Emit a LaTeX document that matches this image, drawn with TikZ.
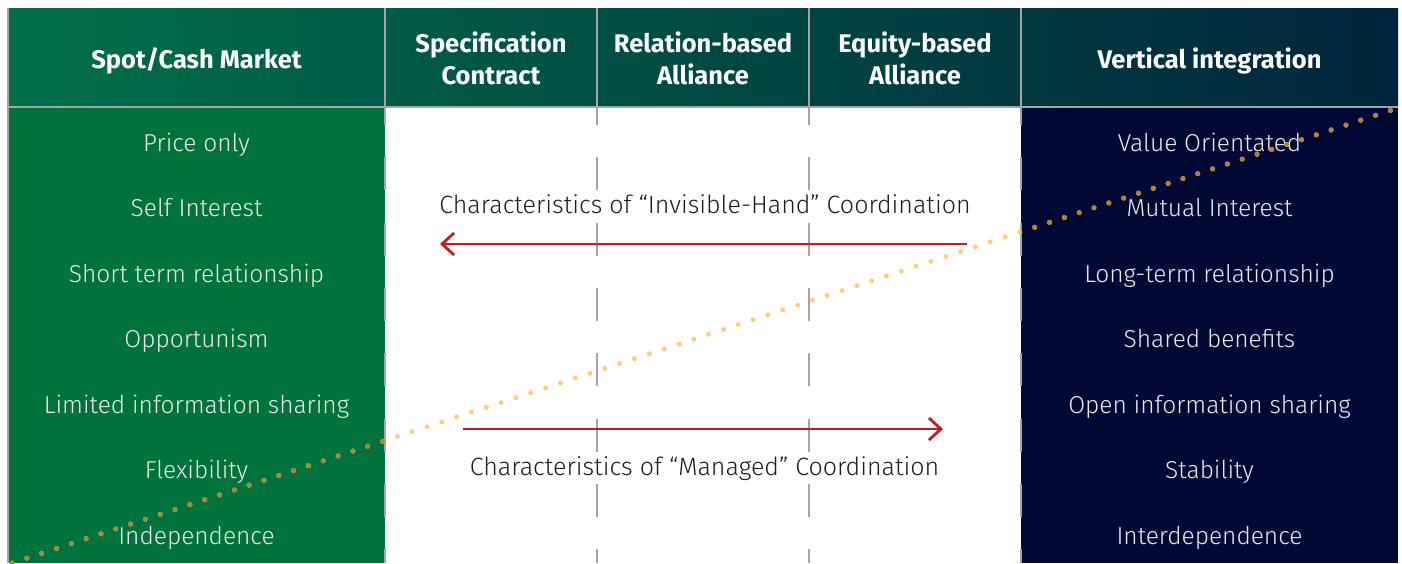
\documentclass[tikz,border=0pt]{standalone}
\usepackage{fontspec}
\setmainfont{Fira Sans}[UprightFont=* Light, BoldFont=* Bold]
\usetikzlibrary{arrows.meta}

\definecolor{hdrL}{RGB}{0,112,74}
\definecolor{hdrR}{RGB}{0,36,60}
\definecolor{bodygreen}{RGB}{0,114,59}
\definecolor{bodynavy}{RGB}{1,8,51}
\definecolor{gridgray}{RGB}{165,165,165}
\definecolor{arrowred}{RGB}{192,30,36}
\definecolor{dotlight}{RGB}{255,206,122}
\definecolor{dotgreen}{RGB}{160,142,52}
\definecolor{dotnavy}{RGB}{176,132,52}
\definecolor{midtext}{RGB}{30,30,30}
\definecolor{bodytext}{RGB}{236,236,236}

\begin{document}
\begin{tikzpicture}[x=1pt,y=-1pt,
  hdr/.style={font=\fontsize{25.5}{32}\selectfont\bfseries, text=white, align=center, anchor=base, inner sep=0pt},
  item/.style={font=\fontsize{24.5}{30}\selectfont, text=bodytext, anchor=base, inner sep=0pt},
  midlabel/.style={font=\fontsize{25}{30}\selectfont, text=midtext, anchor=base, inner sep=0pt},
  colrule/.style={draw=gridgray, line width=1.2pt},
  coldash/.style={draw=gridgray, line width=1.2pt, dash pattern=on 33pt off 32.3pt, dash phase=15pt},
  flow/.style={draw=arrowred, line width=2.8pt, -{Straight Barb[length=12pt,width=22pt,line width=2.8pt]}},
  dotline/.style={line width=5pt, line cap=round, dash pattern=on 0pt off 15.6pt}
]
\useasboundingbox (0,0) rectangle (1402,563);

% header band and side columns
\shade[left color=hdrL, right color=hdrR] (8,8) rectangle (1398,107);
\fill[bodygreen] (8,107) rectangle (385,563);
\fill[bodynavy] (1021,107) rectangle (1398,563);

% cell borders
\foreach \x in {385,597,809,1021} \draw[colrule] (\x,8) -- (\x,107);
\draw[colrule] (8,107) -- (1398,107);
\draw[colrule] (8,8) -- (8,563);
\foreach \x in {385,597,809,1021} \draw[coldash] (\x,107) -- (\x,563);

% column headings (base = baseline of the last line)
\node[hdr] (h1) at (196.5,68) {Spot/Cash Market};
\node[hdr] (h2) at (491,84) {Specification\\Contract};
\node[hdr] (h3) at (703,84) {Relation-based\\Alliance};
\node[hdr] (h4) at (915,84) {Equity-based\\Alliance};
\node[hdr] (h5) at (1209.5,68) {Vertical integration};

% market side characteristics
\foreach \t [count=\i] in {Price only, Self Interest, Short term relationship, Opportunism,
    Limited information sharing, Flexibility, Independence}
  \node[item] (l\i) at (196.5,{151+65.5*(\i-1)}) {\t};

% integration side characteristics
\foreach \t [count=\i] in {Value Orientated, Mutual Interest, Long-term relationship, Shared benefits,
    Open information sharing, Stability, Interdependence}
  \node[item] (r\i) at (1209.5,{151+65.5*(\i-1)}) {\t};

% coordination arrows
\node[midlabel] (inv) at (705,213) {Characteristics of “Invisible-Hand” Coordination};
\coordinate (invS) at (967,244);
\coordinate (invE) at (440,244);
\draw[flow] (invS) -- (invE);

\node[midlabel] (man) at (704.5,475) {Characteristics of “Managed” Coordination};
\coordinate (manS) at (463,429);
\coordinate (manE) at (943,429);
\draw[flow] (manS) -- (manE);

% dotted diagonal
\coordinate (gs) at (12,563);
\coordinate (ge) at (1398,108);
\draw[dotline, draw=dotlight] (gs) -- (ge);
\begin{scope}
  \clip (8,107) rectangle (385,563);
  \draw[dotline, draw=dotgreen] (gs) -- (ge);
\end{scope}
\begin{scope}
  \clip (1021,107) rectangle (1398,563);
  \draw[dotline, draw=dotnavy] (gs) -- (ge);
\end{scope}
\end{tikzpicture}
\end{document}
